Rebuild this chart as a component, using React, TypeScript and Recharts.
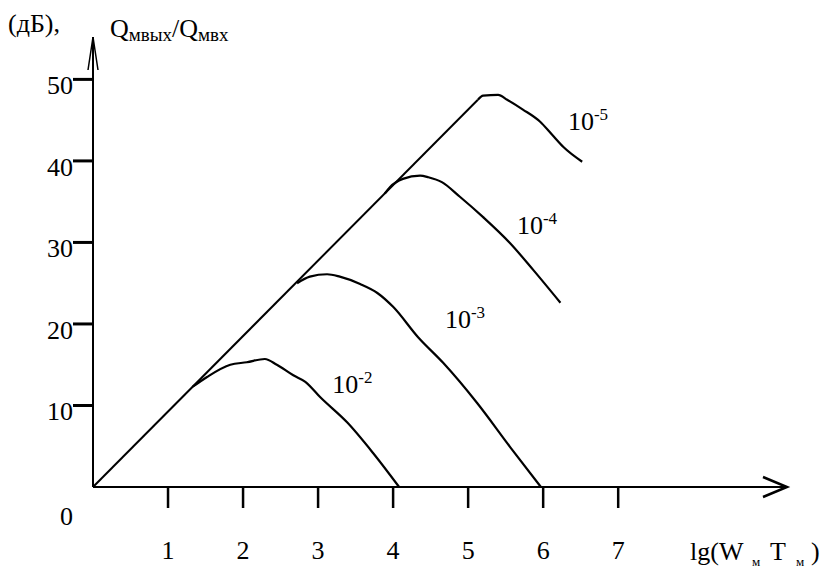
import { LineChart, Line, XAxis, YAxis, ReferenceDot } from "recharts";

const FONT = "'Liberation Serif', 'Times New Roman', serif";

// axis ticks
const xTicks = [1, 2, 3, 4, 5, 6, 7];
const yTicks = [0, 10, 20, 30, 40, 50];

// curves: [lg(W·T), dB]
// common 45° line from the origin, the 10^-5 curve leaves it at its top end
const diagonal: [number, number][] = [[0, 0], [5.13, 47.5]];
const curve5: [number, number][] = [
  [5.13, 47.5], [5.2, 48.0], [5.4, 48.1], [5.52, 47.5], [5.73, 46.3],
  [5.96, 44.8], [6.12, 43.2], [6.27, 41.7], [6.52, 39.9],
];
const curve4: [number, number][] = [
  [3.89, 36.0], [3.96, 36.8], [4.13, 37.8], [4.36, 38.2], [4.47, 38.0], [4.65, 37.4],
  [4.89, 35.6], [5.2, 33.1], [5.56, 29.9], [5.87, 26.6], [6.23, 22.6],
];
const curve3: [number, number][] = [
  [2.72, 25.0], [2.89, 25.8], [3.12, 26.1], [3.29, 25.8], [3.56, 24.9], [3.79, 23.8],
  [4.0, 22.1], [4.33, 18.4], [4.67, 15.2], [5.12, 10.3], [5.56, 4.9], [5.97, 0],
];
const curve2: [number, number][] = [
  [1.33, 12.3], [1.52, 13.5], [1.83, 15.0], [2.05, 15.3], [2.29, 15.7], [2.45, 15.0],
  [2.67, 13.7], [2.83, 12.9], [3.03, 11.0], [3.39, 7.9], [3.73, 4.2], [4.08, 0],
];

// curve labels 10^exp, anchored at text start / baseline
const labelExps = ["-2", "-3", "-4", "-5"];
const labelX = [3.19, 4.69, 5.65, 6.33];
const labelY = [11.5, 19.5, 31.0, 43.8];

const toPoints = (c: [number, number][]) => c.map(([x, y]) => ({ x, y }));
const curves = [curve2, curve3, curve4, curve5].map(toPoints);

function YTick({ x, y, payload }: any) {
  const v = payload.value;
  if (v === 0) {
    return (
      <text x={x} y={y + 38} textAnchor="end" fontSize={26} fontFamily={FONT} fill="#000">
        0
      </text>
    );
  }
  return (
    <g>
      <line x1={x} x2={x + 20} y1={y} y2={y} stroke="#000" strokeWidth={3} />
      <text x={x} y={y + 15} textAnchor="end" fontSize={26} fontFamily={FONT} fill="#000">
        {v}
      </text>
    </g>
  );
}

function PowerLabel({ cx, cy, exp }: { cx: number; cy: number; exp: string }) {
  return (
    <text x={cx} y={cy} fontSize={26} fontFamily={FONT} fill="#000">
      10
      <tspan dy={-10} fontSize={17}>{exp}</tspan>
    </text>
  );
}

export default function App() {
  return (
    <div style={{ position: "absolute", left: 0, top: 0, width: 824, height: 569, background: "#fff" }}>
      <LineChart width={824} height={569} margin={{ top: 37, right: 37, left: 0, bottom: 0 }}>
        <defs>
          <marker id="arrowX" markerUnits="userSpaceOnUse" markerWidth={40} markerHeight={30}
            viewBox="-30 -15 40 30" refX={0} refY={0} orient="auto" overflow="visible">
            <path d="M-24,-10 L0,0 L-24,10" fill="none" stroke="#000" strokeWidth={2.5} />
          </marker>
          <marker id="arrowY" markerUnits="userSpaceOnUse" markerWidth={40} markerHeight={20}
            viewBox="-36 -10 40 20" refX={0} refY={0} orient="auto-start-reverse" overflow="visible">
            <path d="M-33,-5 L0,0 L-33,5" fill="none" stroke="#000" strokeWidth={1.5} />
          </marker>
        </defs>
        <XAxis
          type="number"
          dataKey="x"
          domain={[0, 9.25]}
          ticks={xTicks}
          interval={0}
          height={82}
          axisLine={{ stroke: "#000", strokeWidth: 2, markerEnd: "url(#arrowX)" }}
          tickLine={{ stroke: "#000", strokeWidth: 2.5 }}
          tickSize={21}
          tickMargin={33}
          tick={{ fill: "#000", fontSize: 26, fontFamily: FONT }}
        />
        <YAxis
          type="number"
          dataKey="y"
          domain={[0, 55.2]}
          ticks={yTicks}
          interval={0}
          width={93}
          axisLine={{ stroke: "#000", strokeWidth: 2, markerStart: "url(#arrowY)" }}
          tickLine={false}
          tickSize={20}
          tickMargin={0}
          tick={(p: any) => <YTick {...p} />}
        />
        <Line
          data={toPoints(diagonal)}
          dataKey="y"
          type="linear"
          stroke="#000"
          strokeWidth={2}
          dot={false}
          activeDot={false}
          isAnimationActive={false}
        />
        {curves.map((pts, i) => (
          <Line
            key={i}
            data={pts}
            dataKey="y"
            type="monotone"
            stroke="#000"
            strokeWidth={2.2}
            dot={false}
            activeDot={false}
            isAnimationActive={false}
          />
        ))}
        {labelExps.map((exp, i) => (
          <ReferenceDot
            key={exp}
            x={labelX[i]}
            y={labelY[i]}
            r={1}
            shape={(p: any) => <PowerLabel cx={p.cx} cy={p.cy} exp={exp} />}
          />
        ))}
        <text x={8} y={32} fontSize={26} fontFamily={FONT} fill="#000">(дБ),</text>
        <text x={110} y={37} fontSize={26} fontFamily={FONT} fill="#000">
          Q<tspan fontSize={19} dy={4}>мвых</tspan>
          <tspan fontSize={26} dy={-4}>/Q</tspan>
          <tspan fontSize={19} dy={4}>мвх</tspan>
        </text>
        <text x={690} y={560} fontSize={26} fontFamily={FONT} fill="#000">
          lg(W
          <tspan x={752} dy={6} fontSize={13}>м</tspan>
          <tspan x={770} dy={-6} fontSize={26}>T</tspan>
          <tspan x={796} dy={6} fontSize={13}>м</tspan>
          <tspan x={811} dy={-6} fontSize={26}>)</tspan>
        </text>
      </LineChart>
    </div>
  );
}
